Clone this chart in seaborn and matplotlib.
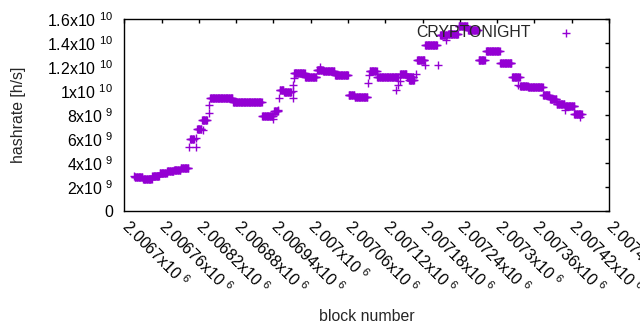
import numpy as np
import pandas as pd
import matplotlib
matplotlib.use('Agg')
import matplotlib.pyplot as plt
import matplotlib.transforms as mtransforms
import seaborn as sns

# plateaus: first block, last block, hashrate (x1e9 h/s)
seg_first = [2006717, 2006730, 2006745, 2006757, 2006769, 2006780, 2006791, 2006806,
             2006817, 2006825, 2006838, 2006875, 2006922, 2006941, 2006950, 2006957,
             2006973, 2006991, 2007010, 2007020, 2007039, 2007061, 2007071, 2007095,
             2007107, 2007144, 2007155, 2007158, 2007171, 2007184, 2007208, 2007221,
             2007238, 2007253, 2007271, 2007282, 2007305, 2007324, 2007337, 2007350,
             2007374, 2007385, 2007396, 2007409, 2007425]
seg_last = [2006729, 2006744, 2006756, 2006768, 2006779, 2006790, 2006803, 2006812,
            2006824, 2006833, 2006874, 2006921, 2006939, 2006947, 2006956, 2006968,
            2006990, 2007009, 2007019, 2007038, 2007060, 2007070, 2007091, 2007106,
            2007140, 2007154, 2007165, 2007166, 2007183, 2007203, 2007219, 2007237,
            2007252, 2007269, 2007280, 2007304, 2007323, 2007336, 2007349, 2007373,
            2007384, 2007395, 2007408, 2007424, 2007436]
seg_rate = [2.8, 2.7, 2.95, 3.2, 3.3, 3.4, 3.55, 6.0,
            6.8, 7.6, 9.4, 9.07, 7.9, 8.3, 10.1, 9.9,
            11.5, 11.17, 11.75, 11.7, 11.33, 9.7, 9.5, 11.7,
            11.14, 11.4, 11.2, 10.9, 12.6, 13.8, 14.7, 14.75,
            15.4, 15.1, 12.6, 13.36, 12.3, 11.14, 10.45, 10.3,
            9.67, 9.3, 8.9, 8.75, 8.1]

# single blocks between plateaus
pt_block = [2006715, 2006804, 2006815, 2006815, 2006827, 2006836, 2006837, 2006940,
            2006948, 2006949, 2006971, 2006972, 2006972, 2006973, 2007015, 2007092,
            2007094, 2007137, 2007141, 2007143, 2007170, 2007184, 2007205, 2007218,
            2007270, 2007334, 2007409, 2007423, 2007434]
pt_rate = [2.95, 5.3, 5.3, 6.05, 6.75, 8.2, 8.8, 7.7,
           8.4, 9.4, 9.4, 10.5, 10.0, 11.05, 12.0, 10.7,
           11.3, 10.1, 10.5, 10.8, 11.4, 12.2, 12.2, 14.25,
           12.6, 10.5, 8.4, 8.1, 7.8]

x_ticks = [2006700 + 60 * k for k in range(14)]
x_mant = ['2.0067', '2.00676', '2.00682', '2.00688', '2.00694', '2.007', '2.00706',
          '2.00712', '2.00718', '2.00724', '2.0073', '2.00736', '2.00742', '2.00748']
y_ticks = [0, 2e9, 4e9, 6e9, 8e9, 1e10, 1.2e10, 1.4e10, 1.6e10]
y_labels = ['0', r'2x10 $^{9}$', r'4x10 $^{9}$', r'6x10 $^{9}$', r'8x10 $^{9}$',
            r'1x10 $^{10}$', r'1.2x10 $^{10}$', r'1.4x10 $^{10}$', r'1.6x10 $^{10}$']

rows = []
for a, b, r in zip(seg_first, seg_last, seg_rate):
    for blk in range(a, b + 1):
        rows.append((blk, r * 1e9))
for blk, r in zip(pt_block, pt_rate):
    rows.append((blk, r * 1e9))
df = pd.DataFrame(rows, columns=['block', 'hashrate'])

sns.set_style('white')
plt.rcParams['font.family'] = ['Liberation Sans', 'DejaVu Sans']
plt.rcParams['mathtext.default'] = 'regular'
fs = 11.4

fig = plt.figure(figsize=(6.4, 3.3), dpi=100)
ax = fig.add_axes([124.3 / 640, 1 - 211 / 330, 484.7 / 640, 192 / 330])

sns.scatterplot(data=df, x='block', y='hashrate', marker='+', color='#9400d3',
                s=30, linewidth=1.0, label='CRYPTONIGHT', ax=ax)

ax.set_xlim(2006700, 2007480)
ax.set_ylim(0, 1.6e10)
ax.set_xticks(x_ticks)
ax.set_xticklabels([m + r'x10 $^{6}$' for m in x_mant], rotation=-45, ha='left',
                   va='top', rotation_mode='anchor', fontsize=fs)
ax.set_yticks(y_ticks)
ax.set_yticklabels(y_labels, fontsize=fs)
ax.tick_params(direction='in', length=3, width=1, top=True, right=True,
               colors='black', pad=8)
ax.tick_params(axis='x', pad=6)
shift = mtransforms.ScaledTranslation(7 / 100, 3 / 100, fig.dpi_scale_trans)
for lab in ax.get_xticklabels():
    lab.set_transform(lab.get_transform() + shift)
for sp in ax.spines.values():
    sp.set_color('black')
    sp.set_linewidth(1.0)

ax.set_xlabel('block number', fontsize=fs)
ax.set_ylabel('hashrate [h/s]', fontsize=fs)
ax.xaxis.set_label_coords(0.5, -0.51)
ax.yaxis.set_label_coords(-0.203, 0.5)

ax.legend(loc='upper right', markerfirst=False, frameon=False, fontsize=fs,
          bbox_to_anchor=(0.944, 0.969), borderaxespad=0, borderpad=0,
          handlelength=2, handletextpad=1.2)

fig.savefig('out.png', dpi=100)
